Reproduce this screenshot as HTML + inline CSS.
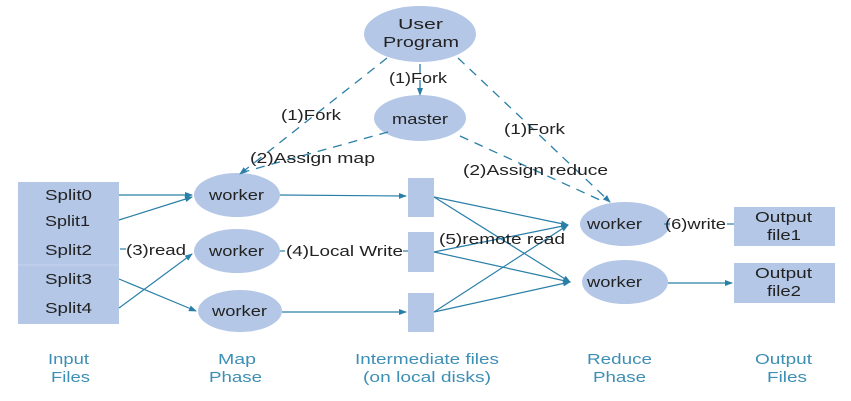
<!DOCTYPE html>
<html><head><meta charset="utf-8"><style>
html,body{margin:0;padding:0;background:#fff;}
svg{display:block;font-family:"Liberation Sans",Arial,sans-serif;}
</style></head><body>
<svg width="851" height="401" viewBox="0 0 851 401" xmlns="http://www.w3.org/2000/svg">
<defs>
<marker id="a" markerWidth="8" markerHeight="8" refX="7" refY="4" orient="auto" markerUnits="userSpaceOnUse">
<path d="M0,1 L8,4 L0,7 z" fill="#2a7fa8"/></marker>
</defs>
<g fill="#b4c7e7">
<ellipse cx="420" cy="34" rx="56" ry="28"/>
<ellipse cx="420" cy="118" rx="46" ry="23"/>
<rect x="18" y="182" width="101" height="142"/>
<ellipse cx="237" cy="195" rx="43" ry="22"/>
<ellipse cx="237" cy="251" rx="43" ry="22"/>
<ellipse cx="240" cy="311" rx="42" ry="21"/>
<rect x="408" y="178" width="26" height="39"/>
<rect x="408" y="232" width="26" height="40"/>
<rect x="408" y="293" width="26" height="39"/>
<ellipse cx="625" cy="224" rx="45" ry="22"/>
<ellipse cx="625" cy="282" rx="43" ry="22"/>
<rect x="734" y="207" width="101" height="39"/>
<rect x="734" y="263" width="101" height="40"/>
</g>
<line x1="18" y1="265" x2="119" y2="265" stroke="#c9d6ee" stroke-width="1"/>
<g stroke="#2a7fa8" stroke-width="1.3" fill="none" stroke-dasharray="9,7">
<line x1="387" y1="58" x2="240" y2="174" marker-end="url(#a)"/>
<line x1="420" y1="64" x2="420" y2="95" marker-end="url(#a)"/>
<line x1="458" y1="58" x2="610" y2="202" marker-end="url(#a)"/>
<line x1="388" y1="132" x2="240" y2="173"/>
<line x1="460" y1="136" x2="600" y2="200"/>
</g>
<g stroke="#2a7fa8" stroke-width="1.2" fill="none">
<line x1="119" y1="195" x2="192" y2="195" marker-end="url(#a)"/>
<line x1="119" y1="220" x2="192" y2="197" marker-end="url(#a)"/>
<line x1="119" y1="279" x2="196" y2="311" marker-end="url(#a)"/>
<line x1="119" y1="308" x2="192" y2="254" marker-end="url(#a)"/>
<line x1="120" y1="249" x2="126" y2="249"/>
<line x1="280" y1="195" x2="406" y2="196" marker-end="url(#a)"/>
<line x1="282" y1="312" x2="406" y2="312" marker-end="url(#a)"/>
<line x1="280" y1="251" x2="285" y2="251"/>
<line x1="403" y1="251" x2="408" y2="251"/>
<line x1="434" y1="197" x2="568" y2="225" marker-end="url(#a)"/>
<line x1="434" y1="197" x2="570" y2="282" marker-end="url(#a)"/>
<line x1="434" y1="252" x2="570" y2="282" marker-end="url(#a)"/>
<line x1="434" y1="252" x2="568" y2="225"/>
<line x1="434" y1="312" x2="568" y2="225" marker-end="url(#a)"/>
<line x1="434" y1="312" x2="570" y2="282" marker-end="url(#a)"/>
<line x1="670" y1="224" x2="664" y2="224"/>
<line x1="727" y1="224" x2="734" y2="224"/>
<line x1="668" y1="283" x2="732" y2="283" marker-end="url(#a)"/>
</g>
<g font-size="15" fill="#222" lengthAdjust="spacingAndGlyphs">
<text x="398" y="29" textLength="45" lengthAdjust="spacingAndGlyphs">User</text>
<text x="383" y="47" textLength="76" lengthAdjust="spacingAndGlyphs">Program</text>
<text x="392" y="124" textLength="56" lengthAdjust="spacingAndGlyphs">master</text>
<text x="209" y="200" textLength="55" lengthAdjust="spacingAndGlyphs">worker</text>
<text x="209" y="256" textLength="55" lengthAdjust="spacingAndGlyphs">worker</text>
<text x="212" y="316" textLength="55" lengthAdjust="spacingAndGlyphs">worker</text>
<text x="587" y="229" textLength="55" lengthAdjust="spacingAndGlyphs">worker</text>
<text x="587" y="287" textLength="55" lengthAdjust="spacingAndGlyphs">worker</text>
<text x="755" y="222" textLength="57" lengthAdjust="spacingAndGlyphs">Output</text>
<text x="767" y="240" textLength="34" lengthAdjust="spacingAndGlyphs">file1</text>
<text x="755" y="278" textLength="57" lengthAdjust="spacingAndGlyphs">Output</text>
<text x="767" y="296" textLength="34" lengthAdjust="spacingAndGlyphs">file2</text>
<text x="45" y="200" textLength="47" lengthAdjust="spacingAndGlyphs">Split0</text>
<text x="45" y="226" textLength="45" lengthAdjust="spacingAndGlyphs">Split1</text>
<text x="45" y="255" textLength="47" lengthAdjust="spacingAndGlyphs">Split2</text>
<text x="45" y="284" textLength="47" lengthAdjust="spacingAndGlyphs">Split3</text>
<text x="45" y="313" textLength="47" lengthAdjust="spacingAndGlyphs">Split4</text>
<text x="389" y="83" textLength="58" lengthAdjust="spacingAndGlyphs">(1)Fork</text>
<text x="281" y="120" textLength="60" lengthAdjust="spacingAndGlyphs">(1)Fork</text>
<text x="504" y="134" textLength="61" lengthAdjust="spacingAndGlyphs">(1)Fork</text>
<text x="250" y="163" textLength="125" lengthAdjust="spacingAndGlyphs">(2)Assign map</text>
<text x="463" y="175" textLength="145" lengthAdjust="spacingAndGlyphs">(2)Assign reduce</text>
<text x="126" y="255" textLength="60" lengthAdjust="spacingAndGlyphs">(3)read</text>
<text x="286" y="256" textLength="117" lengthAdjust="spacingAndGlyphs">(4)Local Write</text>
<text x="439" y="244" textLength="126" lengthAdjust="spacingAndGlyphs">(5)remote read</text>
<text x="665" y="229" textLength="61" lengthAdjust="spacingAndGlyphs">(6)write</text>
</g>
<g font-size="15" fill="#3d8fb5">
<text x="48" y="364" textLength="41" lengthAdjust="spacingAndGlyphs">Input</text>
<text x="51" y="382" textLength="39" lengthAdjust="spacingAndGlyphs">Files</text>
<text x="218" y="364" textLength="38" lengthAdjust="spacingAndGlyphs">Map</text>
<text x="209" y="382" textLength="53" lengthAdjust="spacingAndGlyphs">Phase</text>
<text x="355" y="364" textLength="144" lengthAdjust="spacingAndGlyphs">Intermediate files</text>
<text x="363" y="382" textLength="128" lengthAdjust="spacingAndGlyphs">(on local disks)</text>
<text x="587" y="364" textLength="65" lengthAdjust="spacingAndGlyphs">Reduce</text>
<text x="593" y="382" textLength="53" lengthAdjust="spacingAndGlyphs">Phase</text>
<text x="755" y="364" textLength="57" lengthAdjust="spacingAndGlyphs">Output</text>
<text x="767" y="382" textLength="40" lengthAdjust="spacingAndGlyphs">Files</text>
</g>
</svg>
</body></html>
